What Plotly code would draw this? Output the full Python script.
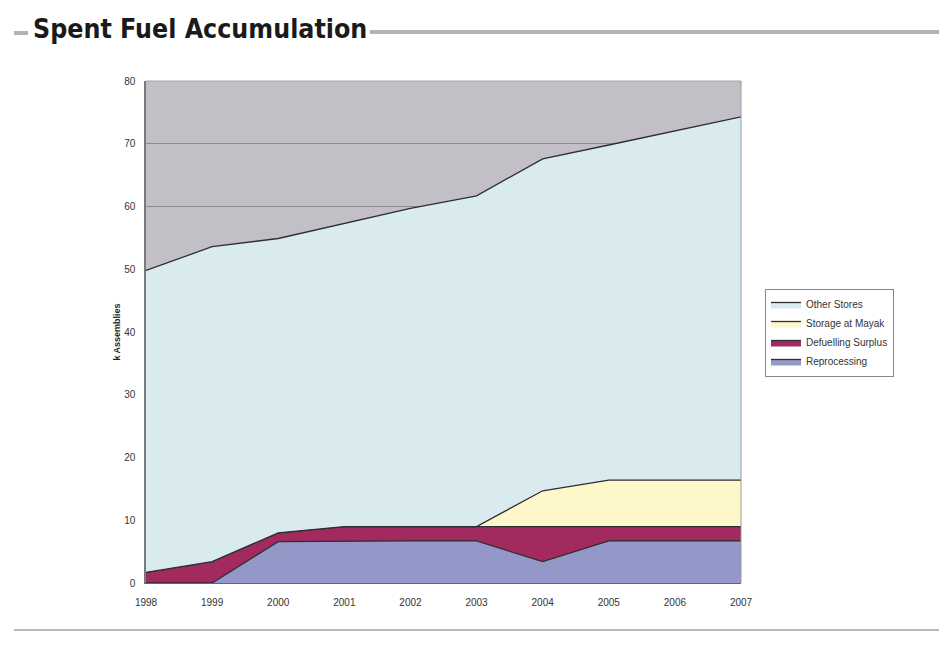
import plotly.graph_objects as go

years = [1998, 1999, 2000, 2001, 2002, 2003, 2004, 2005, 2006, 2007]
reprocessing = [0, 0, 6.6, 6.7, 6.7, 6.7, 3.4, 6.7, 6.7, 6.7]
defuelling = [1.7, 3.4, 1.4, 2.3, 2.3, 2.3, 5.6, 2.3, 2.3, 2.3]
mayak = [0, 0, 0, 0, 0, 0, 5.7, 7.4, 7.4, 7.4]
other = [48.1, 50.2, 46.9, 48.3, 50.7, 52.7, 52.9, 53.4, 55.6, 57.9]

series_names = ["Reprocessing", "Defuelling Surplus", "Storage at Mayak", "Other Stores"]
series_vals = [reprocessing, defuelling, mayak, other]
colors = ["#9398c9", "#a32a5e", "#fdf7c9", "#d9ebef"]

fig = go.Figure()
for name, vals, col in zip(series_names, series_vals, colors):
    fig.add_trace(go.Scatter(
        x=years, y=vals, name=name, mode="lines", stackgroup="one",
        line=dict(color="#2e2e33", width=1.3), fillcolor=col,
    ))

# page body has an 8px margin; work in page pixel coordinates
OFF = 8
W, H = 947 - OFF, 651 - OFF
L, R, T, B = 146 - OFF, 206, 81 - OFF, 68
pw, ph = W - L - R, H - T - B


def px(x):
    return (x - OFF - L) / pw


def py(y):
    return (H - B - (y - OFF)) / ph


fig.update_layout(
    width=W, height=H,
    margin=dict(l=L, r=R, t=T, b=B),
    paper_bgcolor="white",
    plot_bgcolor="#c2bfc7",
    font=dict(family="Arial, Liberation Sans, sans-serif", size=10, color="#333333"),
    showlegend=True,
    legend=dict(
        x=px(765), y=py(289), xanchor="left", yanchor="top",
        traceorder="reversed", bordercolor="#888888", borderwidth=1,
        bgcolor="white", font=dict(size=10, color="#333333"),
        itemwidth=30, tracegroupgap=0,
    ),
    xaxis=dict(
        range=[1998, 2007], tickmode="array", tickvals=years,
        ticktext=[str(y) for y in years], showgrid=False, zeroline=False,
        showline=True, linecolor="#666666", linewidth=1,
        ticks="outside", ticklen=10, tickcolor="rgba(0,0,0,0)",
    ),
    yaxis=dict(
        range=[0, 80], tickvals=[0, 10, 20, 30, 40, 50, 60, 70, 80],
        showgrid=True, gridcolor="#8d8a93", gridwidth=1, zeroline=False,
        showline=True, linecolor="#7a7a7a", linewidth=1.5,
        ticks="outside", ticklen=7, tickcolor="rgba(0,0,0,0)",
        title=dict(text="<b>k Assemblies</b>", font=dict(size=9, color="#222222"), standoff=2),
    ),
    shapes=[
        dict(type="line", xref="paper", yref="paper", x0=px(370), x1=px(947), y0=py(32), y1=py(32),
             line=dict(color="#b3b3b3", width=4)),
        dict(type="line", xref="paper", yref="paper", x0=px(14), x1=px(28), y0=py(33), y1=py(33),
             line=dict(color="#b3b3b3", width=4)),
        dict(type="line", xref="paper", yref="paper", x0=px(14), x1=px(947), y0=py(630), y1=py(630),
             line=dict(color="#b8b8b8", width=2)),
        dict(type="line", xref="paper", yref="paper", x0=0, x1=1, y0=1, y1=1,
             line=dict(color="#a5a5a5", width=1)),
        dict(type="line", xref="paper", yref="paper", x0=1, x1=1, y0=0, y1=1,
             line=dict(color="#9a9a9a", width=1)),
    ],
    annotations=[
        dict(text="<b>Spent Fuel Accumulation</b>", xref="paper", yref="paper",
             x=px(31), y=py(28), xanchor="left", yanchor="middle", showarrow=False,
             font=dict(family="DejaVu Sans Condensed, Liberation Sans Narrow, sans-serif",
                       size=26.5, color="#1a1a1a")),
    ],
)

fig.write_html("out.html")
